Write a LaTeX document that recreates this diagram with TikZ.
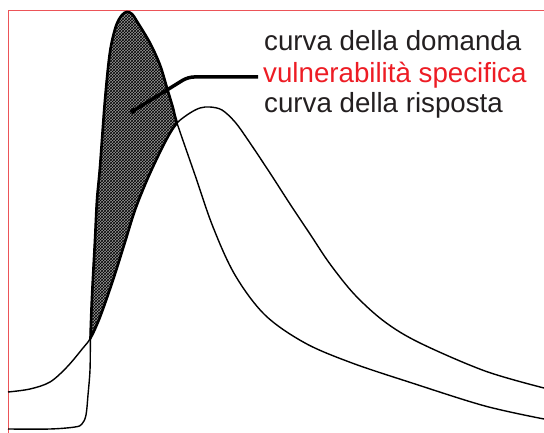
\documentclass[tikz,border=0pt]{standalone}
\usepackage{fontspec}
\setmainfont{Liberation Sans}
\usepackage{tikz}
\usetikzlibrary{patterns}

\definecolor{labelred}{RGB}{237,28,36}
\definecolor{framered}{RGB}{236,84,88}
\definecolor{inkblack}{RGB}{35,31,32}

% curves, in pixel units of the original drawing
\newcommand{\demandpath}{plot[smooth, tension=0.55] coordinates {(8,429) (50,429) (75,427) (82,424) (86,415) (88,395) (90,370) (90.5,338) (92,297) (95,240) (97,200) (100,167) (105,100) (110,52) (116,26) (122,15) (127,12) (132,14) (138,23) (150,43) (160,65) (167,88) (173,108) (177,123) (195,175) (213,227) (235,275) (265,315) (305,343) (352,363) (412,383) (485,406) (544,419)}}
\newcommand{\responsepath}{plot[smooth, tension=0.55] coordinates {(8,392) (30,389) (50,382) (67,367) (83,348) (90.5,338) (100,317) (113,280) (125,242) (135,210) (147,180) (160,152) (170,133) (178,122) (190,113) (200,108) (210,107) (222,110) (235,122) (248,140) (270,173) (290,204) (310,234) (330,264) (355,295) (385,322) (420,343) (485,371) (544,388)}}

\begin{document}
\begin{tikzpicture}[x=1pt, y=-1pt,
    curve/.style={draw=black, line width=1.4pt},
    outline/.style={draw=black, line width=2.6pt},
    legendtext/.style={anchor=base west, inner sep=0pt, text=inkblack,
        font=\fontsize{27.7}{31}\selectfont},
    leader/.style={line width=3.5pt, rounded corners=6pt}]
    \useasboundingbox (0,0) rectangle (544,433);

    % Frame
    \draw[framered, line width=1pt] (8,433) -- (8,11) -- (544,11);

    % Shaded area between the two curves
    \begin{scope}
        \clip \demandpath -- (544,440) -- (0,440) -- cycle;
        \fill[preaction={fill=black!40}, pattern=crosshatch, pattern color=black]
            \responsepath -- (544,0) -- (8,0) -- cycle;
        \draw[outline] \responsepath;
    \end{scope}
    \begin{scope}
        \clip \responsepath -- (544,0) -- (8,0) -- cycle;
        \draw[outline] \demandpath;
    \end{scope}

    % Curves
    \draw[curve] \demandpath;
    \draw[curve] \responsepath;

    % Legend
    \node[legendtext] (demand) at (264,51) {curva della domanda};
    \node[legendtext, text=labelred] (vuln) at (263,83) {vulnerabilità specifica};
    \node[legendtext] (response) at (264,113) {curva della risposta};

    % Pointer into the shaded area
    \coordinate (hatch) at (133,111);
    \draw[leader] ([shift={(-5,-6)}]vuln.base west) -- (188,77) -- (hatch);
    \fill (hatch) circle (3);
\end{tikzpicture}
\end{document}
